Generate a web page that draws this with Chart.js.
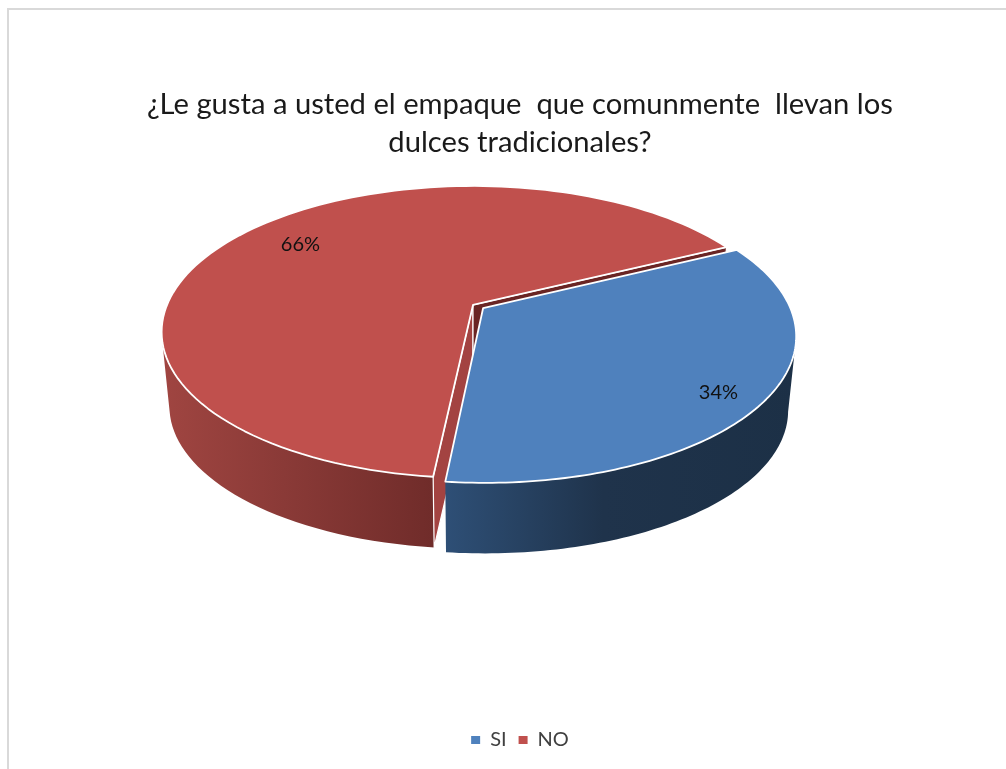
<!DOCTYPE html>
<html lang="es">
<head>
<meta charset="utf-8">
<title>Empaque de dulces tradicionales</title>
<style>
    html, body { margin: 0; padding: 0; width: 1006px; height: 769px; overflow: hidden; background: #fff; }
    #marco { position: absolute; left: 7px; top: 8px; width: 1100px; height: 900px; border: 2px solid #d9d9d9; }
    #graficoPastel { position: absolute; left: 0; top: 0; }
</style>
</head>
<body>
<div id="marco"></div>
<canvas id="graficoPastel" width="1006" height="769"></canvas>
<script src="https://cdn.jsdelivr.net/npm/chart.js@4"></script>
<script>
var tituloLineas = ['¿Le gusta a usted el empaque  que comunmente  llevan los', 'dulces tradicionales?'];
var categorias = ['SI', 'NO'];
var valores = [34, 66];
var colores = ['#4f81bd', '#c0504d'];
var separacion = [4, 0];

// Posición de las etiquetas de porcentaje dentro de cada porción
var etiquetaRadio = [0.87, 0.77];
var etiquetaGiro = [3, 2.4];

// Paredes laterales y cortes de cada porción
var paredColores = [['#2e4f76', '#1f334b', '#1c3046'], ['#a04541', '#8a3a37', '#702c2a']];
var corteColores = [{ inicio: '#2e4f76', fin: '#2e4f76' }, { inicio: '#a34341', fin: '#6a2524' }];

// Proyección en perspectiva del círculo unitario
var vista = { dx: -47, dy: -135, rx: 306, ry: 141, k: 0.185, alto: 75, escalaBase: 0.975 };

function proyectar(el, u, v, base) {
    var w = 1 - vista.k * v;
    var esc = base ? vista.escalaBase : 1;
    return {
        x: el.x + vista.dx + esc * vista.rx * u / w,
        y: el.y + vista.dy + esc * vista.ry * v / w + (base ? vista.alto : 0)
    };
}

// Centro de la porción, desplazado cuando está separada
function centroPorcion(el) {
    var medio = (el.startAngle + el.endAngle) / 2;
    var d = (el.options.offset || 0) / 100;
    return { u: Math.cos(medio) * d, v: Math.sin(medio) * d };
}

function puntoBorde(el, angulo, base) {
    var c = centroPorcion(el);
    return proyectar(el, c.u + Math.cos(angulo), c.v + Math.sin(angulo), base);
}

function angulosBorde(el) {
    var lista = [];
    var pasos = 120;
    for (var i = 0; i <= pasos; i++) {
        lista.push(el.startAngle + (el.endAngle - el.startAngle) * i / pasos);
    }
    return lista;
}

function trazar(ctx, puntos) {
    ctx.beginPath();
    puntos.forEach(function (p, i) {
        if (i === 0) ctx.moveTo(p.x, p.y); else ctx.lineTo(p.x, p.y);
    });
    ctx.closePath();
}

function dibujarCortes(ctx, el, i) {
    var c = centroPorcion(el);
    var arriba = proyectar(el, c.u, c.v, false);
    var abajo = proyectar(el, c.u, c.v, true);
    [[el.startAngle, corteColores[i].inicio], [el.endAngle, corteColores[i].fin]].forEach(function (corte) {
        trazar(ctx, [arriba, puntoBorde(el, corte[0], false), puntoBorde(el, corte[0], true), abajo]);
        ctx.fillStyle = corte[1];
        ctx.fill();
        ctx.strokeStyle = '#fff';
        ctx.lineWidth = 1.2;
        ctx.stroke();
    });
}

function dibujarPared(ctx, el, i) {
    // Solo la parte frontal del borde queda a la vista, hasta los extremos de la elipse
    var visibles = angulosBorde(el).filter(function (a) { return Math.sin(a) > vista.k; });
    var sup = visibles.map(function (a) { return puntoBorde(el, a, false); });
    var inf = visibles.map(function (a) { return puntoBorde(el, a, true); }).reverse();
    var xs = sup.map(function (p) { return p.x; });
    var grad = ctx.createLinearGradient(Math.min.apply(null, xs), 0, Math.max.apply(null, xs), 0);
    grad.addColorStop(0, paredColores[i][0]);
    grad.addColorStop(0.45, paredColores[i][1]);
    grad.addColorStop(1, paredColores[i][2]);
    trazar(ctx, sup.concat(inf));
    ctx.fillStyle = grad;
    ctx.fill();
}

function dibujarTapa(ctx, el, i) {
    var c = centroPorcion(el);
    var puntos = [proyectar(el, c.u, c.v, false)].concat(angulosBorde(el).map(function (a) {
        return puntoBorde(el, a, false);
    }));
    trazar(ctx, puntos);
    ctx.fillStyle = colores[i];
    ctx.fill();
    ctx.lineJoin = 'round';
    ctx.strokeStyle = '#fff';
    ctx.lineWidth = 1.8;
    ctx.stroke();
}

function dibujarEtiqueta(ctx, el, i) {
    var c = centroPorcion(el);
    var medio = (el.startAngle + el.endAngle) / 2 + etiquetaGiro[i] * Math.PI / 180;
    var p = proyectar(el, c.u + Math.cos(medio) * etiquetaRadio[i], c.v + Math.sin(medio) * etiquetaRadio[i], false);
    ctx.fillStyle = '#111';
    ctx.font = '20px Lato';
    ctx.textAlign = 'center';
    ctx.textBaseline = 'middle';
    ctx.fillText(valores[i] + '%', p.x, p.y);
}

// Pastel en 3D a partir de los arcos calculados por Chart.js
var pastel3d = {
    id: 'pastel3d',
    beforeDatasetsDraw: function (chart) {
        var ctx = chart.ctx;
        var arcos = chart.getDatasetMeta(0).data;
        ctx.save();
        // Primero lo que queda detrás: la porción roja y sus cortes
        dibujarPared(ctx, arcos[1], 1);
        dibujarCortes(ctx, arcos[1], 1);
        dibujarPared(ctx, arcos[0], 0);
        dibujarTapa(ctx, arcos[0], 0);
        dibujarTapa(ctx, arcos[1], 1);
        dibujarEtiqueta(ctx, arcos[0], 0);
        dibujarEtiqueta(ctx, arcos[1], 1);
        ctx.restore();
        return false;
    }
};

var ctx = document.getElementById('graficoPastel').getContext('2d');
new Chart(ctx, {
    type: 'pie',
    data: {
        labels: categorias,
        datasets: [{
            data: valores,
            backgroundColor: colores,
            borderWidth: 0,
            offset: separacion
        }]
    },
    options: {
        responsive: false,
        animation: false,
        events: [],
        rotation: 63.7,
        layout: { padding: { left: 34, bottom: 9 } },
        plugins: {
            title: {
                display: true,
                text: tituloLineas,
                color: '#1a1a1a',
                font: { family: 'Lato', size: 29.2, weight: 'normal', lineHeight: 1.3 },
                padding: { top: 86, bottom: 0 }
            },
            legend: {
                position: 'bottom',
                labels: {
                    color: '#404040',
                    font: { family: 'Lato', size: 20 },
                    boxWidth: 9,
                    boxHeight: 8,
                    padding: 12
                }
            },
            tooltip: { enabled: false }
        }
    },
    plugins: [pastel3d]
});
</script>
</body>
</html>
